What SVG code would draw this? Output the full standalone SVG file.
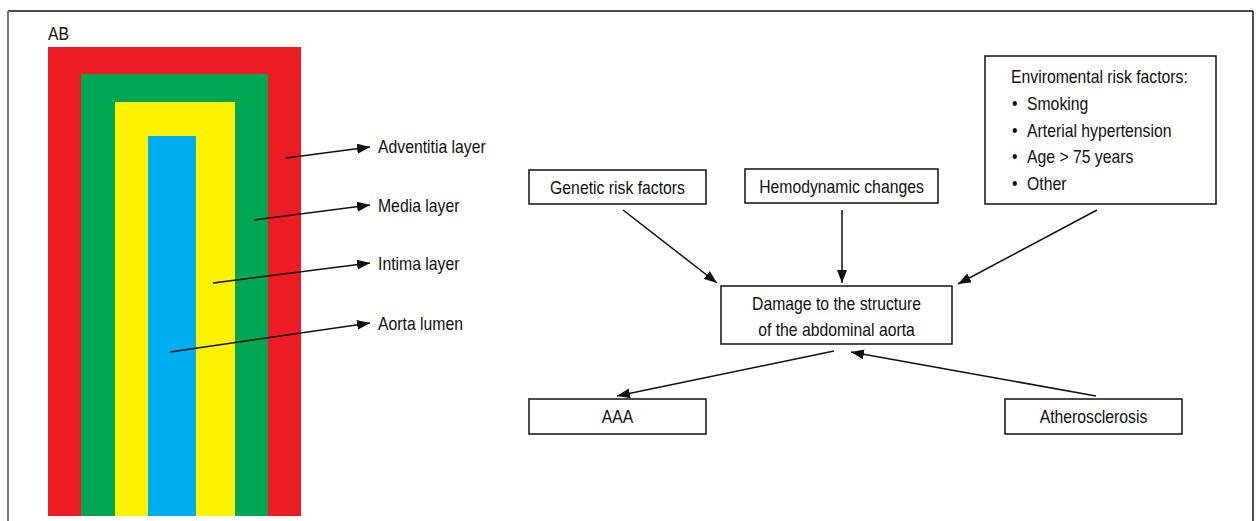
<svg xmlns="http://www.w3.org/2000/svg" width="1257" height="521" viewBox="0 0 1257 521">
<style>
text{font-family:"Liberation Sans",Arial,sans-serif;font-size:19px;fill:#111}
.c{text-anchor:middle}
.box{fill:#fff;stroke:#111;stroke-width:1.5}
.ln{stroke:#111;stroke-width:1.5;fill:none}
</style>
<defs>
<marker id="ah" markerUnits="userSpaceOnUse" markerWidth="14" markerHeight="10" refX="13" refY="5" orient="auto">
<path d="M0,0 L13,5 L0,10 Z" fill="#111"/>
</marker>
</defs>
<rect width="1257" height="521" fill="#fff"/>
<g id="frame">
<line x1="8" y1="11" x2="1253" y2="11" stroke="#111" stroke-width="1.5"/>
<line x1="8" y1="11" x2="8" y2="521" stroke="#777" stroke-width="2"/>
<line x1="1253" y1="11" x2="1253" y2="521" stroke="#111" stroke-width="1.5"/>
</g>
<g id="aorta">
<text transform="translate(48,40) scale(.83,1)">AB</text>
<rect x="48" y="47" width="253" height="469" fill="#ed1c24"/>
<rect x="81" y="74" width="187" height="442" fill="#00a651"/>
<rect x="115" y="102" width="120" height="414" fill="#fff200"/>
<rect x="148" y="136" width="48" height="380" fill="#00aeef"/>
</g>
<g id="labels">
<text transform="translate(378,153) scale(.83,1)">Adventitia layer</text>
<text transform="translate(378,212) scale(.83,1)">Media layer</text>
<text transform="translate(378,270) scale(.83,1)">Intima layer</text>
<text transform="translate(378,330) scale(.83,1)">Aorta lumen</text>
</g>
<g id="genetic"><rect class="box" x="529" y="170" width="177" height="34"/><text class="c" transform="translate(617.5,194) scale(.83,1)">Genetic risk factors</text></g>
<g id="hemodynamic"><rect class="box" x="745" y="169" width="193" height="34"/><text class="c" transform="translate(841.5,193) scale(.83,1)">Hemodynamic changes</text></g>
<g id="environmental"><rect class="box" x="985" y="56" width="231" height="148"/>
<text transform="translate(1011,83) scale(.83,1)">Enviromental risk factors:</text>
<text transform="translate(1012,110) scale(.83,1)">•</text><text transform="translate(1027,110) scale(.83,1)">Smoking</text>
<text transform="translate(1012,137) scale(.83,1)">•</text><text transform="translate(1027,137) scale(.83,1)">Arterial hypertension</text>
<text transform="translate(1012,163) scale(.83,1)">•</text><text transform="translate(1027,163) scale(.83,1)">Age &gt; 75 years</text>
<text transform="translate(1012,190) scale(.83,1)">•</text><text transform="translate(1027,190) scale(.83,1)">Other</text>
</g>
<g id="damage"><rect class="box" x="721" y="286" width="231" height="58"/>
<text class="c" transform="translate(836.5,310) scale(.83,1)">Damage to the structure</text>
<text class="c" transform="translate(836.5,336) scale(.83,1)">of the abdominal aorta</text>
</g>
<g id="aaa"><rect class="box" x="529" y="399" width="177" height="35"/><text class="c" transform="translate(617.5,423) scale(.83,1)">AAA</text></g>
<g id="athero"><rect class="box" x="1005" y="399" width="177" height="35"/><text class="c" transform="translate(1093.5,423) scale(.83,1)">Atherosclerosis</text></g>
<g id="connectors" class="ln">
<line x1="286" y1="158" x2="370" y2="147" marker-end="url(#ah)"/>
<line x1="254" y1="220" x2="370" y2="205" marker-end="url(#ah)"/>
<line x1="213" y1="283" x2="370" y2="263" marker-end="url(#ah)"/>
<line x1="170" y1="352" x2="370" y2="323" marker-end="url(#ah)"/>
<line x1="623" y1="210" x2="717" y2="283" marker-end="url(#ah)"/>
<line x1="842" y1="210" x2="842" y2="283" marker-end="url(#ah)"/>
<line x1="1097" y1="210" x2="958" y2="284" marker-end="url(#ah)"/>
<line x1="834" y1="351" x2="617" y2="396" marker-end="url(#ah)"/>
<line x1="1096" y1="396" x2="851" y2="352" marker-end="url(#ah)"/>
</g>
</svg>
